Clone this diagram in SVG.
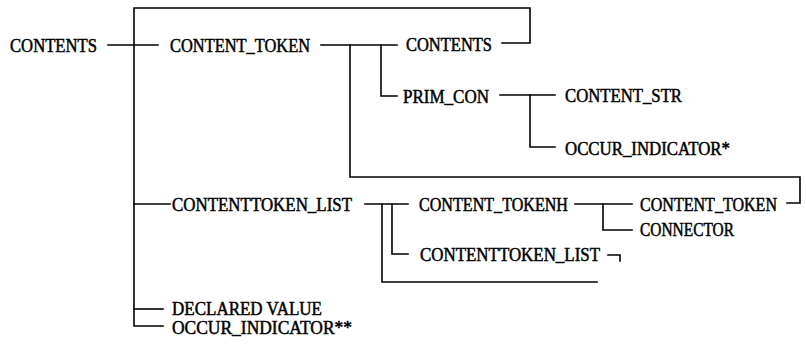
<svg xmlns="http://www.w3.org/2000/svg" width="806" height="349" viewBox="0 0 806 349">
  <style>
    .lbl { font-family: "Liberation Serif", "Times New Roman", serif; font-size: 19px; fill: #000; stroke: #000; stroke-width: 0.5; }
    .wire { fill: none; stroke: #000; stroke-width: 1.6; stroke-linecap: square; stroke-linejoin: miter; }
  </style>
  <rect width="806" height="349" fill="#fff"/>

  <g id="connectors">
    <!-- recursive loop back to the root, main trunk and last branch -->
    <path class="wire" d="M502,43 H530 V8 H134 V326 H163"/>
    <path class="wire" d="M108,45 H158"/>
    <path class="wire" d="M134,204 H170"/>
    <path class="wire" d="M134,309 H163"/>
    <!-- CONTENT_TOKEN branches -->
    <path class="wire" d="M321,45 H397"/>
    <path class="wire" d="M381,45 V96 H397"/>
    <path class="wire" d="M350,45 V177 H800 V203 H787"/>
    <!-- PRIM_CON branches -->
    <path class="wire" d="M500,95 H555"/>
    <path class="wire" d="M530,95 V147 H555"/>
    <!-- CONTENTTOKEN_LIST branches -->
    <path class="wire" d="M365,204 H408"/>
    <path class="wire" d="M392,204 V254 H408"/>
    <path class="wire" d="M382,204 V282 H597"/>
    <path class="wire" d="M608,255 H620 V261"/>
    <!-- CONTENT_TOKENH branches -->
    <path class="wire" d="M575,204 H632"/>
    <path class="wire" d="M603,204 V230 H632"/>
  </g>

  <g id="n-contents-root"><text class="lbl" x="10" y="52" textLength="87" lengthAdjust="spacingAndGlyphs">CONTENTS</text></g>
  <g id="n-content-token"><text class="lbl" x="170" y="52" textLength="140" lengthAdjust="spacingAndGlyphs">CONTENT_TOKEN</text></g>
  <g id="n-contents-rec"><text class="lbl" x="406" y="51" textLength="86" lengthAdjust="spacingAndGlyphs">CONTENTS</text></g>
  <g id="n-prim-con"><text class="lbl" x="403" y="103" textLength="86" lengthAdjust="spacingAndGlyphs">PRIM_CON</text></g>
  <g id="n-content-str"><text class="lbl" x="565" y="102" textLength="117" lengthAdjust="spacingAndGlyphs">CONTENT_STR</text></g>
  <g id="n-occur-1"><text class="lbl" x="565" y="155" textLength="165" lengthAdjust="spacingAndGlyphs">OCCUR_INDICATOR*</text></g>
  <g id="n-contenttoken-list"><text class="lbl" x="172" y="211" textLength="180" lengthAdjust="spacingAndGlyphs">CONTENTTOKEN_LIST</text></g>
  <g id="n-content-tokenh"><text class="lbl" x="419" y="211" textLength="149" lengthAdjust="spacingAndGlyphs">CONTENT_TOKENH</text></g>
  <g id="n-content-token-2"><text class="lbl" x="640" y="211" textLength="137" lengthAdjust="spacingAndGlyphs">CONTENT_TOKEN</text></g>
  <g id="n-connector"><text class="lbl" x="640" y="236" textLength="94" lengthAdjust="spacingAndGlyphs">CONNECTOR</text></g>
  <g id="n-contenttoken-list-2"><text class="lbl" x="420" y="261" textLength="180" lengthAdjust="spacingAndGlyphs">CONTENTTOKEN_LIST</text></g>
  <g id="n-declared-value"><text class="lbl" x="172" y="315" textLength="150" lengthAdjust="spacingAndGlyphs">DECLARED VALUE</text></g>
  <g id="n-occur-2"><text class="lbl" x="172" y="334" textLength="180" lengthAdjust="spacingAndGlyphs">OCCUR_INDICATOR**</text></g>
</svg>
